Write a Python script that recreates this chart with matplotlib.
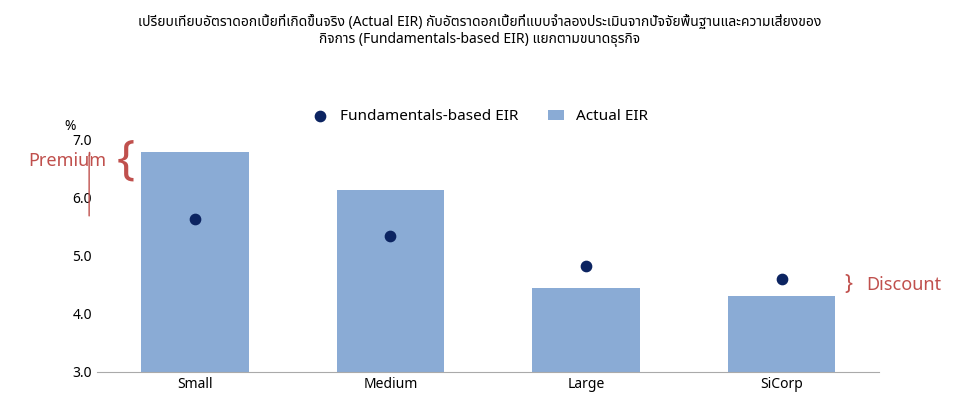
import numpy as np
import matplotlib.pyplot as plt

plt.rcParams['font.family'] = ['Noto Sans Thai', 'Noto Sans', 'DejaVu Sans']

categories = ['Small', 'Medium', 'Large', 'SiCorp']
actual_eir = [6.78, 6.14, 4.45, 4.31]
fundamental_eir = [5.64, 5.34, 4.83, 4.60]
title = ('เปรียบเทียบอัตราดอกเบี้ยที่เกิดขึ้นจริง (Actual EIR) กับอัตราดอกเบี้ยที่แบบจำลองประเมินจากปัจจัยพื้นฐานและความเสี่ยงของ\n'
         'กิจการ (Fundamentals-based EIR) แยกตามขนาดธุรกิจ')

fig = plt.figure(figsize=(9.6, 4.17), dpi=100)
ax = fig.add_axes([0.101, 0.108, 0.815, 0.557])

x = np.arange(len(categories))
base = 3.0
ax.bar(x, np.array(actual_eir) - base, bottom=base, width=0.55, color='#8aabd5', label='Actual EIR', zorder=2)
ax.scatter(x, fundamental_eir, s=55, color='#0c2461', label='Fundamentals-based EIR', zorder=3)

ax.set_ylim(3.0, 7.0)
ax.set_xlim(-0.5, 3.5)
ax.set_yticks([3.0, 4.0, 5.0, 6.0, 7.0])
ax.set_yticklabels(['3.0', '4.0', '5.0', '6.0', '7.0'])
ax.set_xticks(x)
ax.set_xticklabels(categories)
ax.tick_params(length=0, labelsize=10)
for s in ['top', 'right', 'left']:
    ax.spines[s].set_visible(False)
ax.spines['bottom'].set_color('#aaaaaa')
ax.text(-0.035, 1.04, '%', transform=ax.transAxes, fontsize=10, ha='center')

fig.text(0.5, 0.965, title, ha='center', va='top', fontsize=10)
fig.legend(loc='center', bbox_to_anchor=(0.5, 0.72), ncol=2, frameon=False, fontsize=11,
           handlelength=1.0, columnspacing=2.0)

red = '#c0504d'
fig.text(0.029, 0.614, 'Premium', color=red, fontsize=13, va='center')
ax.annotate('', xy=(-0.54, 6.78), xytext=(-0.54, 5.64), xycoords='data', annotation_clip=False,
            arrowprops=dict(arrowstyle='-[, widthB=0.0', color=red))
fig.text(0.131, 0.614, '{', color=red, fontsize=34, va='center', ha='center', fontweight='light')
fig.text(0.902, 0.317, 'Discount', color=red, fontsize=13, va='center')
fig.text(0.884, 0.317, '}', color=red, fontsize=15, va='center', ha='center')

fig.savefig('out.png', dpi=100)
